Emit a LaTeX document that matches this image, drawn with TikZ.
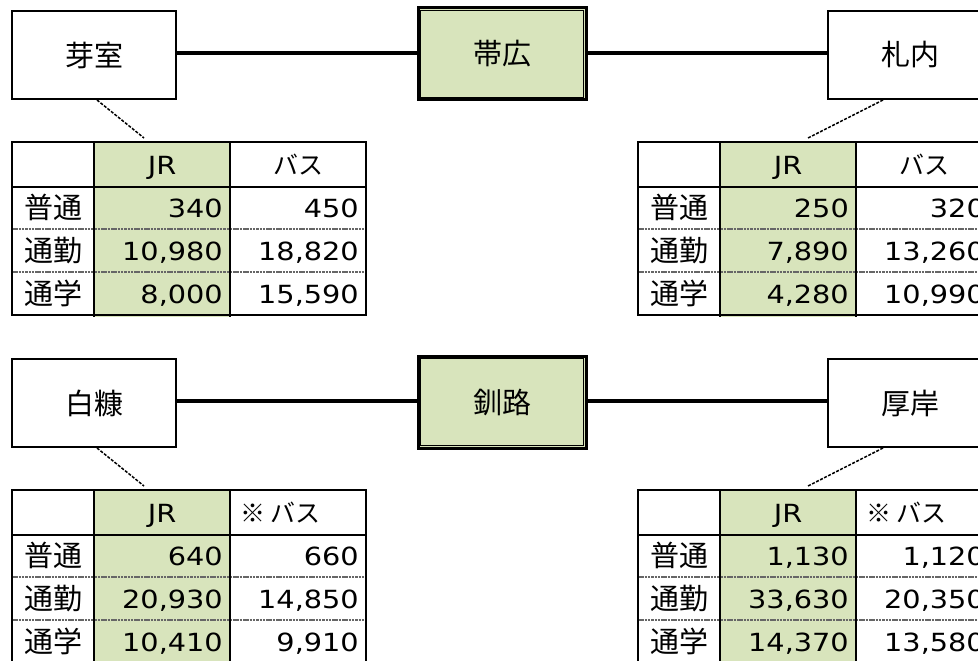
\documentclass[tikz,border=0pt]{standalone}
\usepackage{fontspec}
\setmainfont{DejaVu Sans}[FakeStretch=1.15]
\newfontfamily\jp{Noto Sans CJK JP}
\definecolor{jrgreen}{HTML}{D8E4BC}
\newcommand\cellfont{\fontsize{25}{29}\selectfont}
\newcommand\jpfont{\fontsize{29}{32}\selectfont\jp}
\tikzset{
  station/.style={draw, line width=2pt, minimum width=164pt, minimum height=88pt, inner sep=0pt, fill=white, font=\jpfont},
  hub/.style={draw, line width=3pt, minimum width=168pt, minimum height=92pt, inner sep=0pt, fill=jrgreen, font=\jpfont},
  hubinner/.style={line width=1.2pt},
  rail/.style={line width=4pt},
  lead/.style={line width=1.5pt, dash pattern=on 3pt off 1.5pt},
  gridline/.style={line width=2.2pt},
  sepline/.style={line width=2.8pt, black!60, dash pattern=on 2.5pt off 0.8pt},
  num/.style={inner sep=0pt, anchor=base east, font=\cellfont},
  lab/.style={inner sep=0pt, anchor=base, font=\jpfont},
  head/.style={inner sep=0pt, anchor=base, font=\cellfont},
}
% table: #1 prefix, #2..#7 values (JR/bus for 3 rows)
\newcommand\faretable[7]{%
  \fill[jrgreen] (82,0) rectangle (218,175);
  \draw[sepline] (0,87) -- (354,87);
  \draw[sepline] (0,130) -- (354,130);
  \draw[gridline] (0,0) rectangle (354,173);
  \draw[gridline] (82,0) -- (82,175);
  \draw[gridline] (218,0) -- (218,175);
  \draw[gridline] (0,45) -- (354,45);
  \node[head] (#1-jr) at (150,32) {JR};
  \node[lab] (#1-r1) at (41,76) {普通};
  \node[lab] (#1-r2) at (41,119) {通勤};
  \node[lab] (#1-r3) at (41,162) {通学};
  \node[num] (#1-a1) at (211,75) {#2};
  \node[num] (#1-b1) at (347,75) {#3};
  \node[num] (#1-a2) at (211,118) {#4};
  \node[num] (#1-b2) at (347,118) {#5};
  \node[num] (#1-a3) at (211,161) {#6};
  \node[num] (#1-b3) at (347,161) {#7};
}
\begin{document}
\begin{tikzpicture}[x=1pt, y=-1pt]
\clip (0,0) rectangle (978,661);
\fill[white] (0,0) rectangle (978,661);

% ---------- top row ----------
\node[station] (memuro) at (94,55) {芽室};
\node[hub] (obihiro) at (502,54) {帯広};
\draw[hubinner] ([shift={(4,4)}]obihiro.north west) rectangle ([shift={(-4,-4)}]obihiro.south east);
\node[station] (satsunai) at (910,55) {札内};
\draw[rail] (memuro.east |- 0,53) -- (obihiro.west |- 0,53);
\draw[rail] (obihiro.east |- 0,53) -- (satsunai.west |- 0,53);

\begin{scope}[shift={(12,142)}]
  \faretable{tm}{340}{450}{10,980}{18,820}{8,000}{15,590}
  \node[head] (tm-bus) at (286,32) {\jp バス};
\end{scope}
\begin{scope}[shift={(638,142)}]
  \faretable{ts}{250}{320}{7,890}{13,260}{4,280}{10,990}
  \node[head] (ts-bus) at (286,32) {\jp バス};
\end{scope}
\coordinate (tmend) at (144,138);
\coordinate (tsend) at (808,138);
\draw[lead] ([xshift=3pt]memuro.south) -- (tmend);
\draw[lead] ([xshift=-27pt]satsunai.south) -- (tsend);

% ---------- bottom row ----------
\node[station] (shiranuka) at (94,403) {白糠};
\node[hub] (kushiro) at (502,402) {釧路};
\draw[hubinner] ([shift={(4,4)}]kushiro.north west) rectangle ([shift={(-4,-4)}]kushiro.south east);
\node[station] (akkeshi) at (910,403) {厚岸};
\draw[rail] (shiranuka.east |- 0,401) -- (kushiro.west |- 0,401);
\draw[rail] (kushiro.east |- 0,401) -- (akkeshi.west |- 0,401);

\begin{scope}[shift={(12,490)}]
  \faretable{bs}{640}{660}{20,930}{14,850}{10,410}{9,910}
  \node[head, anchor=base west] (bs-bus) at (228,32) {\jp ※ バス};
\end{scope}
\begin{scope}[shift={(638,490)}]
  \faretable{ba}{1,130}{1,120}{33,630}{20,350}{14,370}{13,580}
  \node[head, anchor=base west] (ba-bus) at (228,32) {\jp ※ バス};
\end{scope}
\coordinate (bsend) at (144,486);
\coordinate (baend) at (808,486);
\draw[lead] ([xshift=3pt]shiranuka.south) -- (bsend);
\draw[lead] ([xshift=-27pt]akkeshi.south) -- (baend);
\end{tikzpicture}
\end{document}
